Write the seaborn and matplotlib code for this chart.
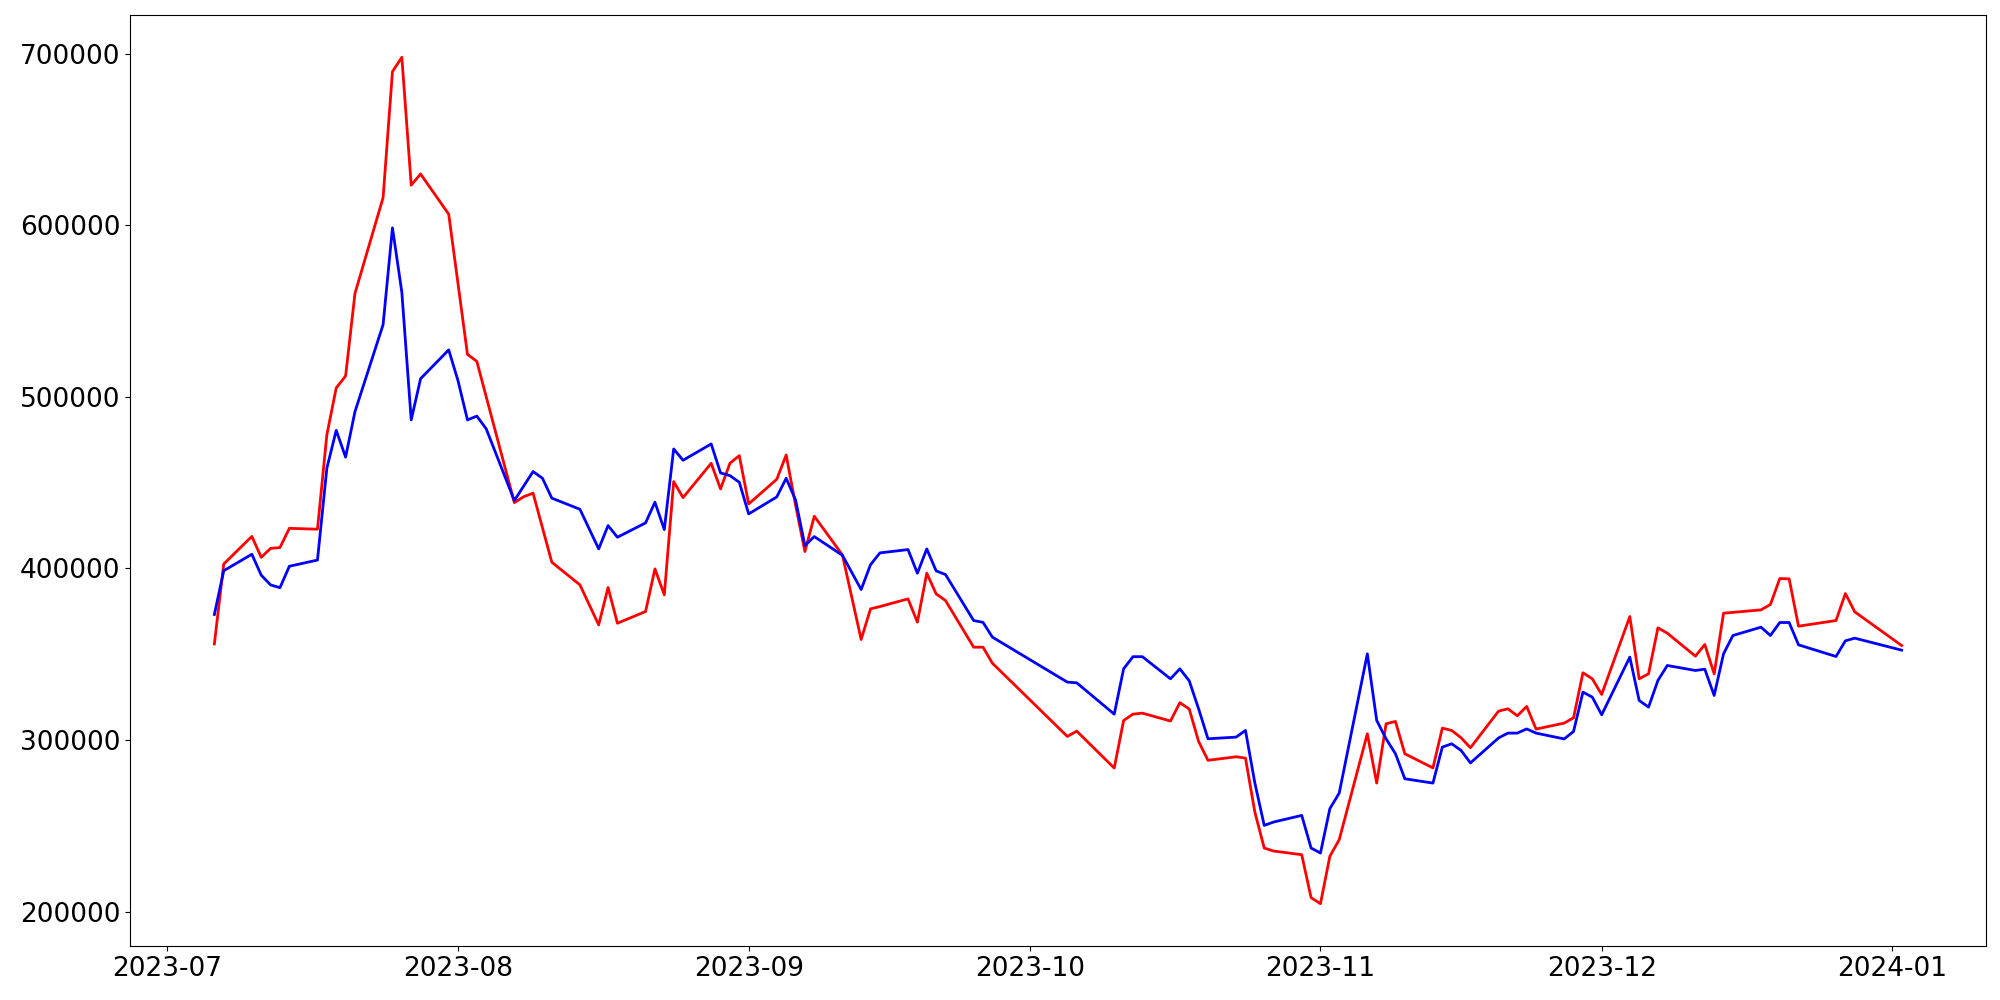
import numpy as np
import pandas as pd
import seaborn as sns
import matplotlib
import matplotlib.pyplot as plt

matplotlib.use('Agg')

# trading days; None = no point for that series on that day
dates = [
    '2023-07-06', '2023-07-07', '2023-07-10', '2023-07-11', '2023-07-12', '2023-07-13', '2023-07-14',
    '2023-07-17', '2023-07-18', '2023-07-19', '2023-07-20', '2023-07-21',
    '2023-07-24', '2023-07-25', '2023-07-26', '2023-07-27', '2023-07-28',
    '2023-07-31', '2023-08-01', '2023-08-02', '2023-08-03', '2023-08-04',
    '2023-08-07', '2023-08-08', '2023-08-09', '2023-08-10', '2023-08-11',
    '2023-08-14', '2023-08-16', '2023-08-17', '2023-08-18',
    '2023-08-21', '2023-08-22', '2023-08-23', '2023-08-24', '2023-08-25',
    '2023-08-28', '2023-08-29', '2023-08-30', '2023-08-31', '2023-09-01',
    '2023-09-04', '2023-09-05', '2023-09-06', '2023-09-07', '2023-09-08',
    '2023-09-11', '2023-09-13', '2023-09-14', '2023-09-15',
    '2023-09-18', '2023-09-19', '2023-09-20', '2023-09-21', '2023-09-22',
    '2023-09-25', '2023-09-26', '2023-09-27',
    '2023-10-05', '2023-10-06',
    '2023-10-10', '2023-10-11', '2023-10-12', '2023-10-13',
    '2023-10-16', '2023-10-17', '2023-10-18', '2023-10-19', '2023-10-20',
    '2023-10-23', '2023-10-24', '2023-10-25', '2023-10-26', '2023-10-27',
    '2023-10-30', '2023-10-31', '2023-11-01', '2023-11-02', '2023-11-03',
    '2023-11-06', '2023-11-07', '2023-11-08', '2023-11-09', '2023-11-10',
    '2023-11-13', '2023-11-14', '2023-11-15', '2023-11-16', '2023-11-17',
    '2023-11-20', '2023-11-21', '2023-11-22', '2023-11-23', '2023-11-24',
    '2023-11-27', '2023-11-28', '2023-11-29', '2023-11-30', '2023-12-01',
    '2023-12-04', '2023-12-05', '2023-12-06', '2023-12-07', '2023-12-08',
    '2023-12-11', '2023-12-12', '2023-12-13', '2023-12-14', '2023-12-15',
    '2023-12-18', '2023-12-19', '2023-12-20', '2023-12-21', '2023-12-22',
    '2023-12-26', '2023-12-27', '2023-12-28', '2024-01-02',
]

red_values = [
    356000, 402600, 418700, 406500, 411700, 412200, 423400,
    422900, 477900, 505200, 512200, 560300,
    616100, 689600, 697900, 623400, 629900,
    606500, None, 524800, 520700, None,
    438400, 441800, 443900, None, 403650,
    390450, 367150, 388900, 368100,
    374900, 399770, 384620, 450630, 441310,
    461300, 446360, 461300, 465770, 437620,
    451990, 466160, 437000, 409860, 430440,
    407920, 358610, 376470, 377800,
    382290, 368700, 397240, 385200, 381320,
    354140, 354140, 344800,
    302110, 305220,
    283700, 311430, 315100, 315700,
    311100, 321800, 318100, 299200, 288200,
    290270, 289490, 258040, 237080, 235330,
    233190, 208150, 204650, 232220, 241930,
    303670, 274930, 309490, 310850, 292020,
    283770, 306970, 305610, 301340, 295520,
    316870, 318230, 314150, 319590, 306400,
    309880, 312990, 339200, 335700, 326580,
    372000, 335700, 338610, 365400, 362300,
    348900, 355690, 338610, 373940, None,
    375880, 378990, 394130, 393940, 366370,
    369670, 385400, 374720, 355110,
]

blue_values = [
    373200, 398700, 408300, 396100, 390400, 388800, 401300,
    404900, 458400, 480500, 464900, 491400,
    542100, 598500, 561000, 486600, 510600,
    527400, 509300, 486600, 488800, 481400,
    439600, None, 456500, 452600, 441000,
    434500, 411410, 425000, 418210,
    426560, 438590, 422680, 469660, 463060,
    472570, 455680, 454130, 450250, 431800,
    441700, 452570, 440000, 413350, 418600,
    407700, 387730, 402200, 409080,
    411020, 397240, 411410, 398600, 396460,
    369670, 368600, 360000,
    333760, 333370,
    315100, 341520, 348600, 348600,
    335700, 341520, 334530, 318220, 300750,
    301720, 305600, 275000, 250280, 252220,
    256100, 237080, 234170, 259990, 269110,
    350260, 311430, 300750, 292020, 277450,
    274930, 295900, 297840, 293960, 286680,
    301250, 304060, 304060, 306480, 304060,
    300660, 305030, 327940, 325030, 314740,
    348330, 323090, 319200, 334740, 343470,
    340560, 341330, 325990, 350260, 360940,
    365790, 360940, 368510, 368510, 355500,
    348710, 357840, 359390, 352410,
]


def plot_chart():
    df = pd.DataFrame({'date': pd.to_datetime(dates),
                       'red': red_values,
                       'blue': blue_values})
    df = df.melt(id_vars='date', var_name='series', value_name='value')
    df = df.dropna()

    fig, ax = plt.subplots(figsize=(20, 10), dpi=100)
    sns.lineplot(data=df, x='date', y='value', hue='series',
                 hue_order=['red', 'blue'],
                 palette={'red': 'red', 'blue': 'blue'},
                 linewidth=2, legend=False, ax=ax)

    ax.set_xlabel('')
    ax.set_ylabel('')
    ax.tick_params(labelsize=19)
    fig.subplots_adjust(left=0.065, right=0.993, top=0.985, bottom=0.054)
    fig.savefig('out.png', dpi=100)


plot_chart()
